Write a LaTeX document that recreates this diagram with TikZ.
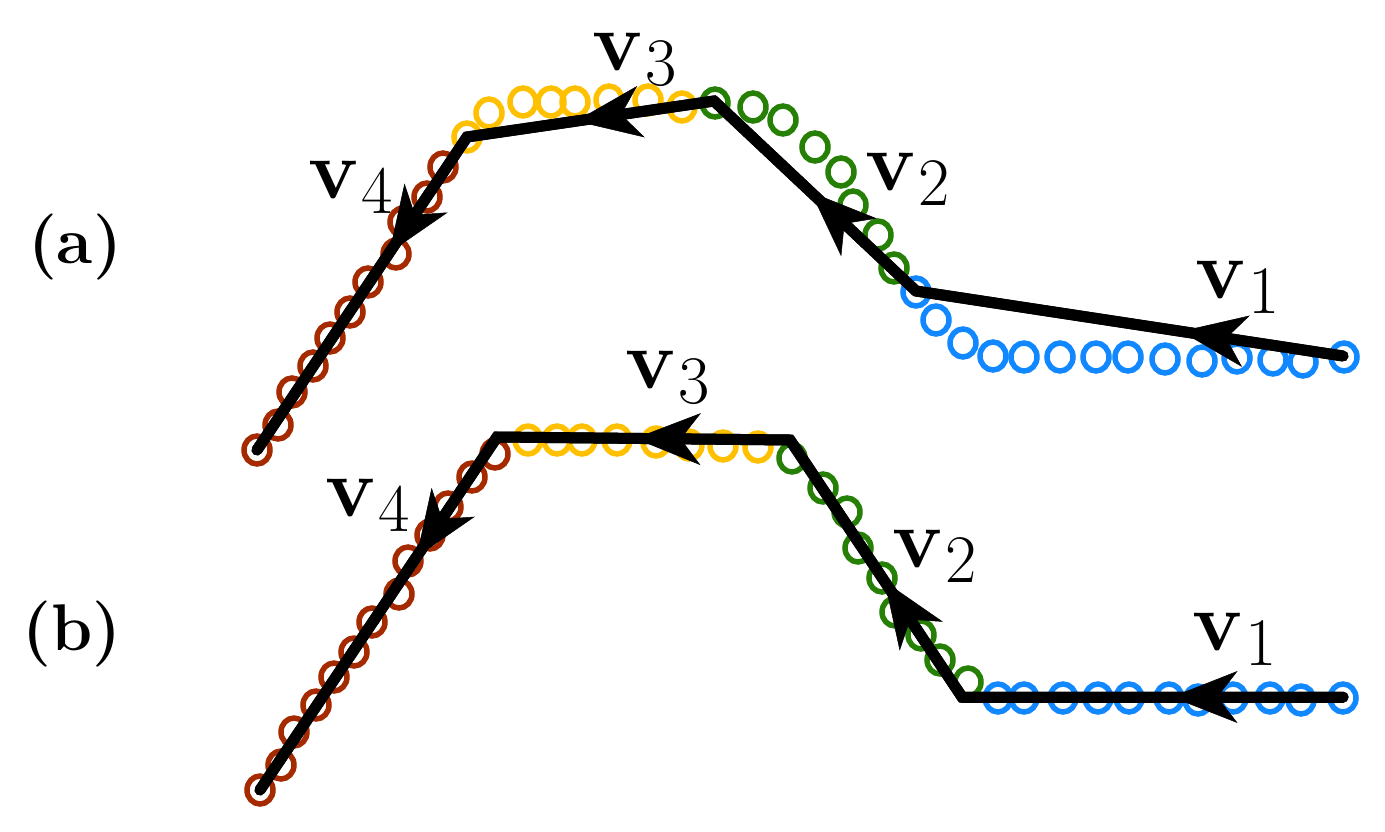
\documentclass[tikz,border=0pt]{standalone}
\usetikzlibrary{arrows.meta,decorations.markings}
\definecolor{cblue}{RGB}{17,136,255}
\definecolor{cgreen}{RGB}{38,128,6}
\definecolor{cyellow}{RGB}{255,192,0}
\definecolor{cred}{RGB}{165,42,0}
\newcommand{\vlab}[1]{{\fontsize{84}{90}\selectfont\bfseries v}\kern3pt{\fontsize{68}{70}\selectfont\raisebox{-15pt}{#1}}}
\tikzset{
  trail/.style={line width=11pt, black, line join=miter, line cap=round},
  ring/.style={line width=5.5pt},
  seg/.style={trail, postaction={decorate}, decoration={markings,
     mark=at position #1 with {\arrow{Stealth[length=66pt,width=52pt,inset=20pt,line width=0.5pt]}}}},
  plabel/.style={font=\fontsize{66}{72}\selectfont\bfseries, inner sep=0pt},
  vl/.style={anchor=base west, inner sep=0pt}
}
\begin{document}
\begin{tikzpicture}[x=1pt,y=-1pt]
\useasboundingbox (0,0) rectangle (1385,831);
% ---------- panel (a) circles
\foreach \x/\y in {916/292,936/320,963/343,993/356,1024/357,1060/357,1096/357,1128/357,1165/359,1202/361,1237/358,1273/360,1303/362,1344/357}
  \draw[ring,cblue] (\x,\y) ellipse [x radius=13pt, y radius=14pt];
\foreach \x/\y in {715/103,753/107,783/120,815/147,841/172,853/205,878/235,894/268}
  \draw[ring,cgreen] (\x,\y) ellipse [x radius=13pt, y radius=14pt];
\foreach \x/\y in {467/137,489/113,523/102,551/102,575/102,609/100,648/100,682/107}
  \draw[ring,cyellow] (\x,\y) ellipse [x radius=13pt, y radius=14pt];
\foreach \x/\y in {443/167,427/197,403/222,396/254,368/282,350/312,330/338,313/366,292/392,278/425,257/450}
  \draw[ring,cred] (\x,\y) ellipse [x radius=13pt, y radius=14pt];
% ---------- panel (b) circles
\foreach \x/\y in {998/698,1024/698,1063/698,1098/698,1129/698,1169/698,1198/700,1233/698,1270/698,1301/700,1343/698}
  \draw[ring,cblue] (\x,\y) ellipse [x radius=13pt, y radius=14pt];
\foreach \x/\y in {792/458,823/488,847/512,858/548,882/578,895/612,921/635,940/660,968/682}
  \draw[ring,cgreen] (\x,\y) ellipse [x radius=13pt, y radius=14pt];
\foreach \x/\y in {528/440,557/440,582/440,617/440,656/442,689/445,723/446,758/447}
  \draw[ring,cyellow] (\x,\y) ellipse [x radius=13pt, y radius=14pt];
\foreach \x/\y in {495/454,472/477,448/507,430/535,408/561,399/594,372/622,354/652,334/677,316/705,294/732,281/765,260/790}
  \draw[ring,cred] (\x,\y) ellipse [x radius=13pt, y radius=14pt];
% ---------- vertices
\coordinate (a0) at (1343,356);
\coordinate (a1) at (916,291);
\coordinate (a2) at (714,101);
\coordinate (a3) at (467,137);
\coordinate (a4) at (257,450);
\coordinate (b0) at (1343,697);
\coordinate (b1) at (962,697);
\coordinate (b2) at (790,440);
\coordinate (b3) at (497,437);
\coordinate (b4) at (260,790);
% ---------- paths
\draw[trail] (a0) -- (a1) -- (a2) -- (a3) -- (a4);
\draw[seg=0.38] (a0) -- (a1);
\draw[seg=0.52] (a1) -- (a2);
\draw[seg=0.56] (a2) -- (a3);
\draw[seg=0.37] (a3) -- (a4);
\draw[trail] (b0) -- (b1) -- (b2) -- (b3) -- (b4);
\draw[seg=0.45] (b0) -- (b1);
\draw[seg=0.45] (b1) -- (b2);
\draw[seg=0.53] (b2) -- (b3);
\draw[seg=0.34] (b3) -- (b4);
% ---------- labels
\node[plabel] (la) at (75,247) {(a)};
\node[plabel] (lb) at (72,634) {(b)};
\node[vl] (av1) at (1195,298) {\vlab{1}};
\node[vl] (av2) at (865,190) {\vlab{2}};
\node[vl] (av3) at (592,70) {\vlab{3}};
\node[vl] (av4) at (308,198) {\vlab{4}};
\node[vl] (bv1) at (1192,650) {\vlab{1}};
\node[vl] (bv2) at (892,567) {\vlab{2}};
\node[vl] (bv3) at (625,388) {\vlab{3}};
\node[vl] (bv4) at (325,516) {\vlab{4}};
\end{tikzpicture}
\end{document}
